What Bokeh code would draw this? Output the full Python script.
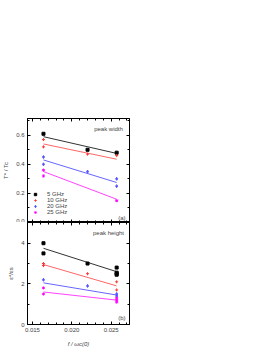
from bokeh.plotting import figure
from bokeh.models import (Range1d, LinearAxis, SingleIntervalTicker, Label, Legend, LegendItem,
                          CustomJSTickFormatter, NumeralTickFormatter)
from bokeh.layouts import column
from bokeh.embed import file_html
from bokeh.resources import INLINE

# ---- data ----
series_labels = ["5 GHz", "10 GHz", "20 GHz", "25 GHz"]
fit_x = [0.0164, 0.0257]

w5_x = [0.0164, 0.0220, 0.0257]
w5_y = [0.61, 0.50, 0.48]
w10_x = [0.0164, 0.0164, 0.0220, 0.0257]
w10_y = [0.57, 0.52, 0.47, 0.46]
w20_x = [0.0164, 0.0164, 0.0220, 0.0257, 0.0257]
w20_y = [0.45, 0.40, 0.35, 0.30, 0.25]
w25_x = [0.0164, 0.0164, 0.0257]
w25_y = [0.36, 0.32, 0.15]
w5_fit = [0.59, 0.475]
w10_fit = [0.54, 0.435]
w20_fit = [0.43, 0.275]
w25_fit = [0.35, 0.16]

h5_x = [0.0164, 0.0164, 0.0220, 0.0257, 0.0257, 0.0257, 0.0257]
h5_y = [4.0, 3.5, 3.0, 2.8, 2.55, 2.5, 2.45]
h10_x = [0.0164, 0.0164, 0.0220, 0.0257, 0.0257]
h10_y = [3.0, 2.9, 2.5, 2.1, 1.7]
h20_x = [0.0164, 0.0220, 0.0257, 0.0257]
h20_y = [2.2, 1.9, 1.5, 1.4]
h25_x = [0.0164, 0.0164, 0.0257, 0.0257, 0.0257]
h25_y = [1.8, 1.5, 1.3, 1.2, 1.1]
h5_fit = [3.75, 2.6]
h10_fit = [2.95, 1.9]
h20_fit = [2.05, 1.45]
h25_fit = [1.6, 1.2]

FONT = "Liberation Sans"
FS = "6px"
mcolors = ["black", "#ff3333", "#5555ff", "#ff00ff"]
lcolors = ["#333333", "#ff6666", "#6666ff", "#ff44ff"]
markers = ["square", "cross", "diamond", "asterisk"]

X0, X1 = 0.01437, 0.02733


def style_axis(ax, show_labels=True):
    ax.axis_line_color = "black"
    ax.axis_line_width = 1
    ax.major_tick_in = 3
    ax.major_tick_out = 0
    ax.minor_tick_in = 2
    ax.minor_tick_out = 0
    ax.major_label_text_font = FONT
    ax.major_label_text_font_size = FS if show_labels else "1px"
    ax.major_label_standoff = 3 if show_labels else 0
    if not show_labels:
        ax.formatter = CustomJSTickFormatter(code="return ''")
    ax.axis_label_text_font = FONT
    ax.axis_label_text_font_size = FS
    ax.axis_label_text_font_style = "normal"
    ax.axis_label_standoff = 4


def make_fig(yr, yint, yfmt, frame_h, top_border, bottom_border, show_x):
    p = figure(frame_width=102, frame_height=frame_h, output_backend="svg",
               toolbar_location=None, x_range=Range1d(X0, X1), y_range=yr,
               min_border_left=18, min_border_right=8,
               min_border_top=top_border, min_border_bottom=bottom_border,
               x_axis_location=None, y_axis_location=None)
    p.grid.visible = False
    p.outline_line_color = "black"
    p.background_fill_color = "white"
    xt = lambda: SingleIntervalTicker(interval=0.005, num_minor_ticks=5)
    yt = lambda: SingleIntervalTicker(interval=yint, num_minor_ticks=2)
    bx = LinearAxis(ticker=xt())
    style_axis(bx, show_x)
    if show_x:
        bx.formatter = NumeralTickFormatter(format="0.000")
        bx.axis_label = "f / \u03c9c(0)"
        bx.axis_label_text_font_style = "italic"
        bx.axis_label_standoff = 6
    p.add_layout(bx, "below")
    tx = LinearAxis(ticker=xt())
    style_axis(tx, False)
    p.add_layout(tx, "above")
    ly = LinearAxis(ticker=yt(), formatter=NumeralTickFormatter(format=yfmt))
    style_axis(ly, True)
    p.add_layout(ly, "left")
    ry = LinearAxis(ticker=yt())
    style_axis(ry, False)
    p.add_layout(ry, "right")
    return p, ly, bx


# ---- top panel ----
top, ly1, bx1 = make_fig(Range1d(0, 0.715), 0.2, "0.0", 104, 118, 0, False)
ly1.axis_label = "T* / Tc"
tx_list = [w5_x, w10_x, w20_x, w25_x]
ty_list = [w5_y, w10_y, w20_y, w25_y]
tf_list = [w5_fit, w10_fit, w20_fit, w25_fit]
items = []
for i in range(4):
    top.line(fit_x, tf_list[i], line_color=lcolors[i], line_width=1)
    r = top.scatter(tx_list[i], ty_list[i], marker=markers[i], size=3,
                    line_color=mcolors[i], fill_color=mcolors[i], line_width=1)
    items.append(LegendItem(label=series_labels[i], renderers=[r]))
leg = Legend(items=items, location=(4, 7), label_text_font=FONT,
             label_text_font_size=FS, glyph_height=6, glyph_width=8,
             label_height=6, spacing=0, padding=1, margin=0,
             label_standoff=8, border_line_color=None, background_fill_alpha=0)
top.add_layout(leg, "center")
top.add_layout(Label(x=81, y=91, x_units="screen", y_units="screen",
                     text="peak width", text_font=FONT, text_font_size=FS,
                     text_align="center"))
top.add_layout(Label(x=98, y=2, x_units="screen", y_units="screen",
                     text="(a)", text_font=FONT, text_font_size=FS,
                     text_align="right"))

# ---- bottom panel ----
bot, ly2, bx2 = make_fig(Range1d(0, 5.02), 2, "0", 102, 0, 22, True)
ly2.axis_label = "\u03b5*/\u03b5s"
hx_list = [h5_x, h10_x, h20_x, h25_x]
hy_list = [h5_y, h10_y, h20_y, h25_y]
hf_list = [h5_fit, h10_fit, h20_fit, h25_fit]
for i in range(4):
    bot.line(fit_x, hf_list[i], line_color=lcolors[i], line_width=1)
    bot.scatter(hx_list[i], hy_list[i], marker=markers[i], size=3,
                line_color=mcolors[i], fill_color=mcolors[i], line_width=1)
bot.add_layout(Label(x=81, y=89, x_units="screen", y_units="screen",
                     text="peak height", text_font=FONT, text_font_size=FS,
                     text_align="center"))
bot.add_layout(Label(x=98, y=4, x_units="screen", y_units="screen",
                     text="(b)", text_font=FONT, text_font_size=FS,
                     text_align="right"))

layout = column(top, bot, spacing=0)
open("out.html", "w").write(file_html(layout, INLINE))
